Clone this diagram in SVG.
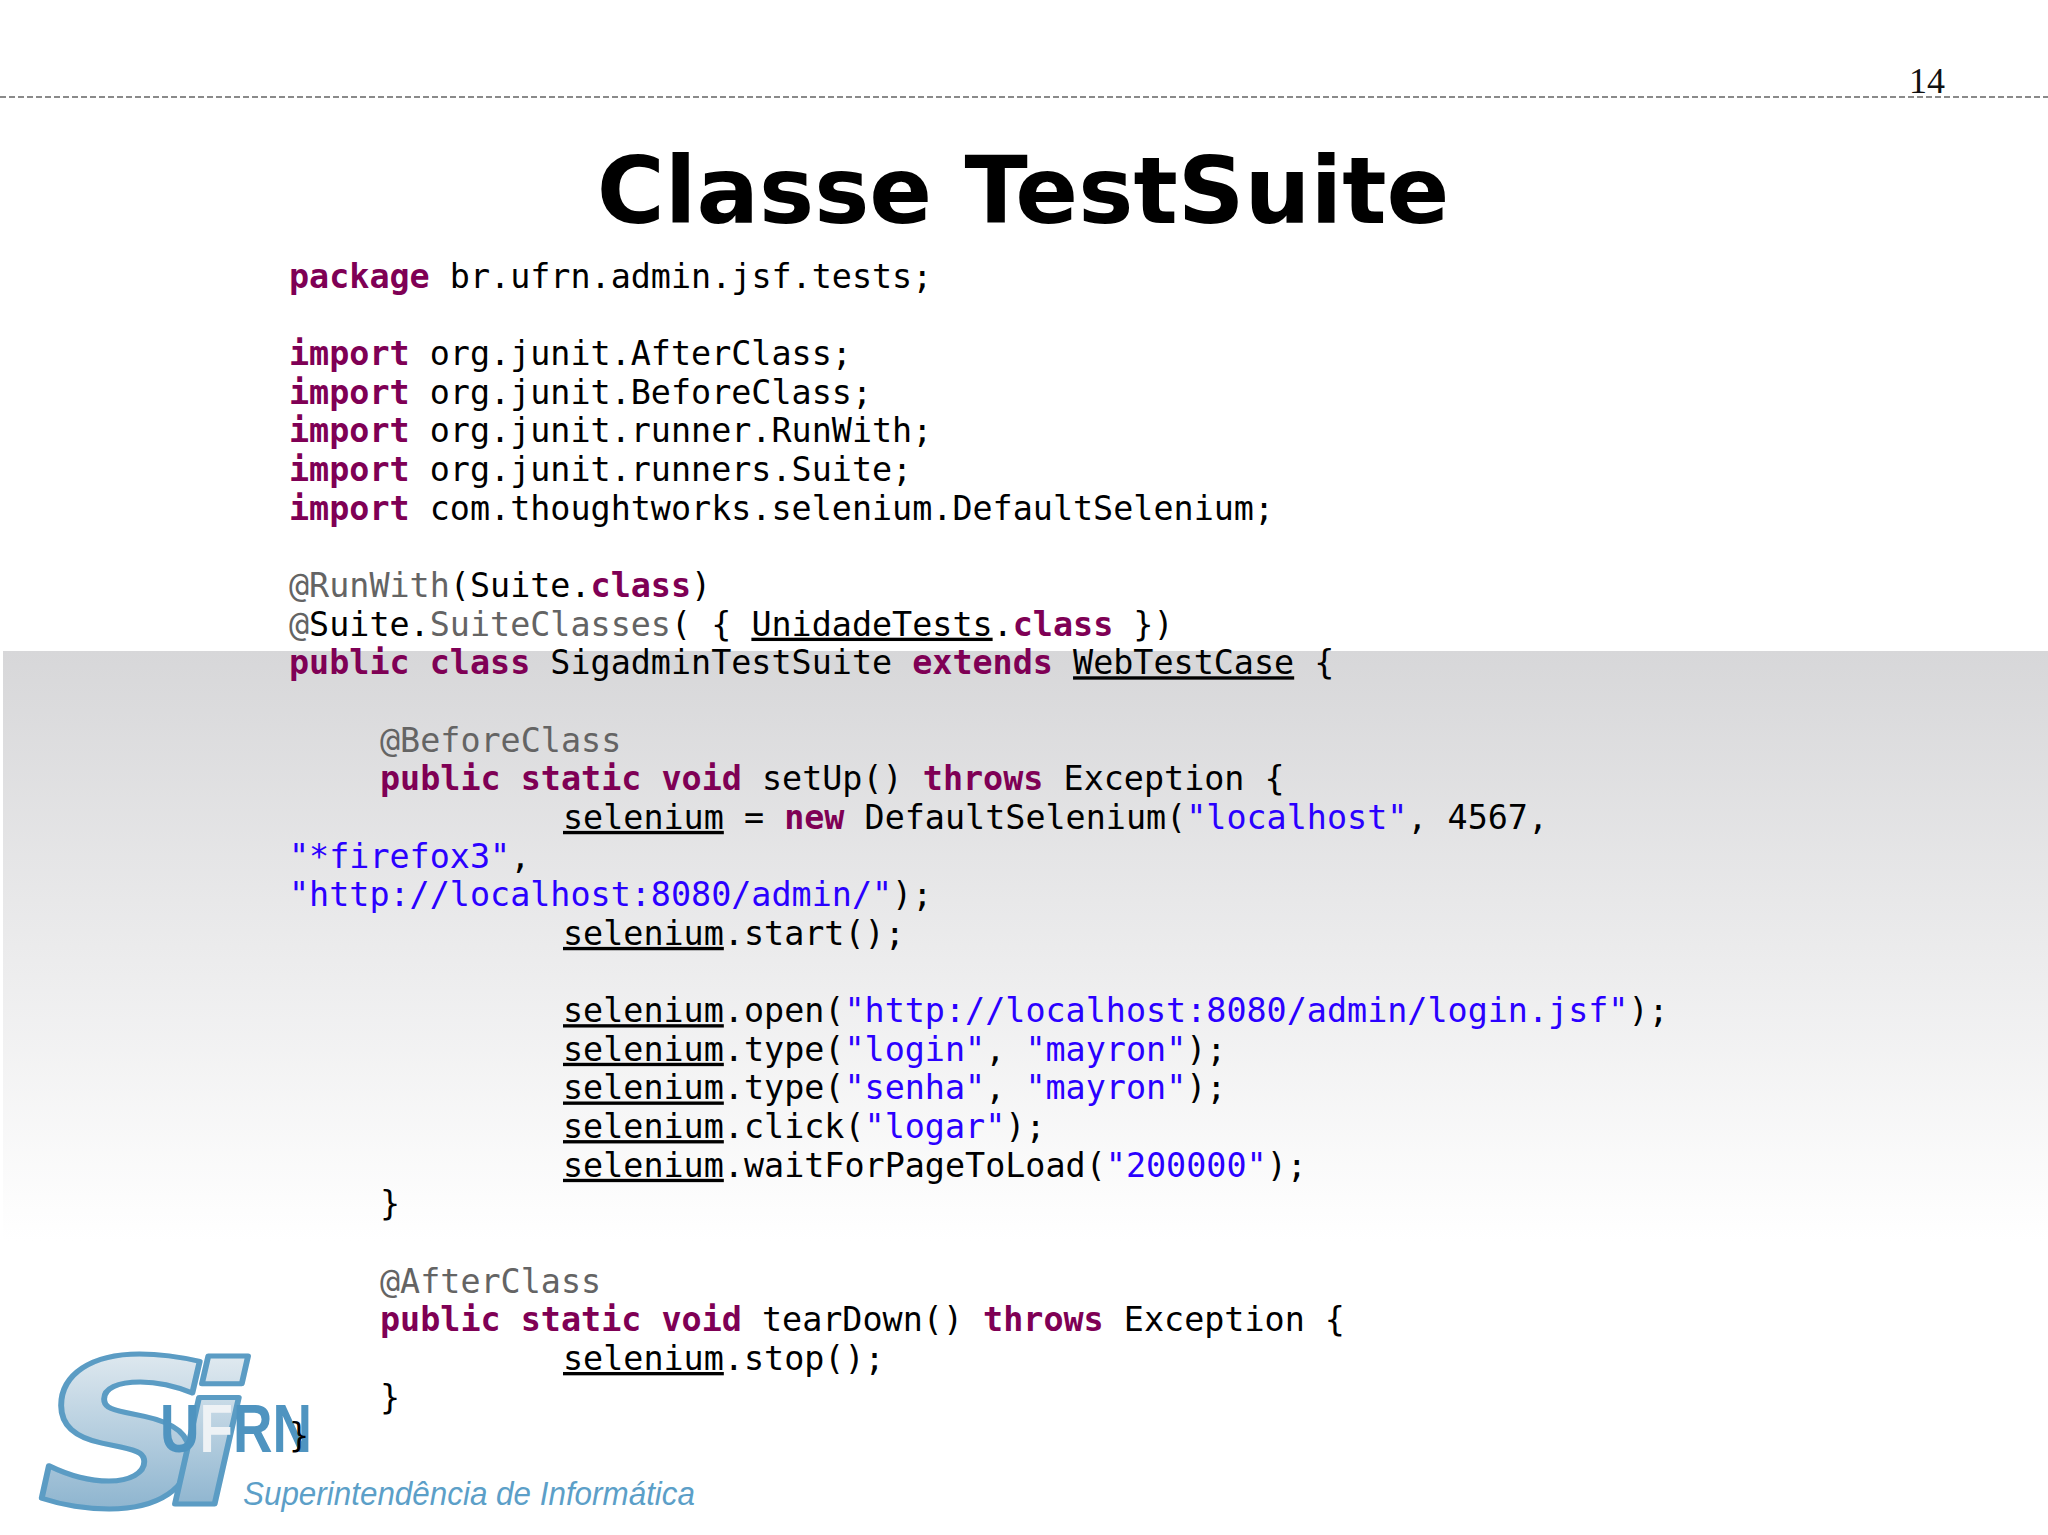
<svg xmlns="http://www.w3.org/2000/svg" width="2048" height="1535" viewBox="0 0 2048 1535">
<style>
.c{font-family:"DejaVu Sans Mono",monospace;font-size:33.4px;fill:#000}
.k{font-weight:bold;fill:#7f0055}
.s{fill:#2a00ff}
.a{fill:#646464}
.u{text-decoration:underline}
.m{font-family:"DejaVu Sans",sans-serif;font-weight:bold;font-style:italic;fill:url(#logo);stroke:#5b9cc4;stroke-width:5px;stroke-linejoin:round}
</style>
<defs>
<linearGradient id="bg" x1="0" y1="0" x2="0" y2="1"><stop offset="0" stop-color="#d7d7d9"/><stop offset="1" stop-color="#ffffff"/></linearGradient>
<linearGradient id="logo" x1="0" y1="0" x2="0" y2="1"><stop offset="0" stop-color="#f2f5f7"/><stop offset="1" stop-color="#77a6c6"/></linearGradient>
</defs>
<rect width="2048" height="1535" fill="#fff"/>
<rect x="3" y="651" width="2045" height="590" fill="url(#bg)"/>
<line x1="0" y1="97" x2="2048" y2="97" stroke="#8a8a8a" stroke-width="2" stroke-dasharray="6 3"/>
<text x="1909" y="93" font-family="Liberation Serif,serif" font-size="36" fill="#111">14</text>
<text id="title" x="1023" y="223" text-anchor="middle" font-family="DejaVu Sans,sans-serif" font-weight="bold" font-size="92.700" fill="#000">Classe TestSuite</text>
<g id="logo-mark">
<text transform="translate(38 1506) scale(1.18 1)" class="m" font-size="206">S</text>
<text transform="translate(168 1504) scale(1.16 1)" class="m" font-size="195">i</text>
<text x="160" y="1452" font-family="Liberation Sans,sans-serif" font-weight="bold" font-size="68" fill="#4f94c0" textLength="152" lengthAdjust="spacingAndGlyphs">U<tspan fill="#eef2f5">F</tspan>RN</text>
<text x="243" y="1505" font-family="Liberation Sans,sans-serif" font-style="italic" font-size="34" fill="#5c9fc8" textLength="452" lengthAdjust="spacingAndGlyphs">Superintendência de Informática</text>
</g>
<g id="code" class="c" transform="translate(0 1.800)">
<text x="289" y="286"><tspan class="k">package</tspan> br.ufrn.admin.jsf.tests;</text>
<text x="289" y="363.300"><tspan class="k">import</tspan> org.junit.AfterClass;</text>
<text x="289" y="402"><tspan class="k">import</tspan> org.junit.BeforeClass;</text>
<text x="289" y="440.600"><tspan class="k">import</tspan> org.junit.runner.RunWith;</text>
<text x="289" y="479.300"><tspan class="k">import</tspan> org.junit.runners.Suite;</text>
<text x="289" y="517.900"><tspan class="k">import</tspan> com.thoughtworks.selenium.DefaultSelenium;</text>
<text x="289" y="595.200"><tspan class="a">@RunWith</tspan>(Suite.<tspan class="k">class</tspan>)</text>
<text x="289" y="633.900"><tspan class="a">@</tspan>Suite.<tspan class="a">SuiteClasses</tspan>( { <tspan class="u">UnidadeTests</tspan>.<tspan class="k">class</tspan> })</text>
<text x="289" y="672.500"><tspan class="k">public class</tspan> SigadminTestSuite <tspan class="k">extends</tspan> <tspan class="u">WebTestCase</tspan> {</text>
<text x="380" y="749.800" class="a">@BeforeClass</text>
<text x="380" y="788.500"><tspan class="k">public static void</tspan> setUp() <tspan class="k">throws</tspan> Exception {</text>
<text x="563" y="827.100"><tspan class="u">selenium</tspan> = <tspan class="k">new</tspan> DefaultSelenium(<tspan class="s">"localhost"</tspan>, 4567,</text>
<text x="289" y="865.800"><tspan class="s">"*firefox3"</tspan>,</text>
<text x="289" y="904.400"><tspan class="s">"http://localhost:8080/admin/"</tspan>);</text>
<text x="563" y="943.100"><tspan class="u">selenium</tspan>.start();</text>
<text x="563" y="1020.400"><tspan class="u">selenium</tspan>.open(<tspan class="s">"http://localhost:8080/admin/login.jsf"</tspan>);</text>
<text x="563" y="1059"><tspan class="u">selenium</tspan>.type(<tspan class="s">"login"</tspan>, <tspan class="s">"mayron"</tspan>);</text>
<text x="563" y="1097.700"><tspan class="u">selenium</tspan>.type(<tspan class="s">"senha"</tspan>, <tspan class="s">"mayron"</tspan>);</text>
<text x="563" y="1136.300"><tspan class="u">selenium</tspan>.click(<tspan class="s">"logar"</tspan>);</text>
<text x="563" y="1175"><tspan class="u">selenium</tspan>.waitForPageToLoad(<tspan class="s">"200000"</tspan>);</text>
<text x="380" y="1213.600">}</text>
<text x="380" y="1290.900" class="a">@AfterClass</text>
<text x="380" y="1329.600"><tspan class="k">public static void</tspan> tearDown() <tspan class="k">throws</tspan> Exception {</text>
<text x="563" y="1368.200"><tspan class="u">selenium</tspan>.stop();</text>
<text x="380" y="1406.900">}</text>
<text x="289" y="1445.500">}</text>
</g>
</svg>
